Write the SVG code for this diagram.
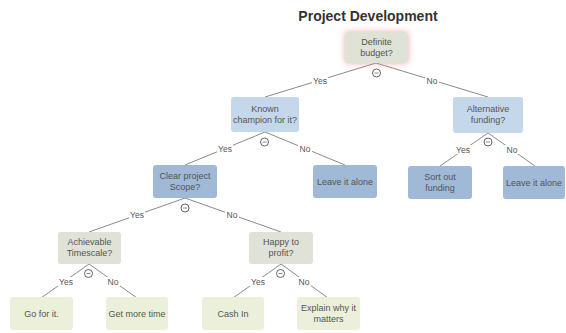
<svg xmlns="http://www.w3.org/2000/svg" width="566" height="333" viewBox="0 0 566 333">
<defs>
<filter id="glow" x="-50%" y="-50%" width="200%" height="200%">
<feGaussianBlur in="SourceAlpha" stdDeviation="3" result="b"/>
<feFlood flood-color="#f08080" flood-opacity="0.7"/>
<feComposite in2="b" operator="in"/>
<feMerge><feMergeNode/><feMergeNode in="SourceGraphic"/></feMerge>
</filter>
</defs>
<style>
.n{stroke:none}
.grey{fill:#dfe2d6}
.lb{fill:#c5d7eb}
.mb{fill:#9fb9d6}
.lf{fill:#ebf0da}
.t{font-family:"Liberation Sans",Arial,sans-serif;font-size:9px;fill:#555;text-anchor:middle}
.e{stroke:#8a8a8a;stroke-width:1;fill:none}
.lbl{font-family:"Liberation Sans",Arial,sans-serif;font-size:8.5px;fill:#555;text-anchor:middle}
.bg{fill:#fff}
.c{fill:#fff;stroke:#555;stroke-width:0.9}
.title{font-family:"Liberation Sans",Arial,sans-serif;font-size:14px;font-weight:bold;fill:#333;text-anchor:middle}
</style>
<rect width="566" height="333" fill="#fff"/>
<text class="title" x="368" y="21">Project Development</text>
<g id="connectors">
<path class="e" d="M376 63 L265 97 M376 63 L488 97 M265 132 L185 165 M265 132 L345 165 M488 133 L440 166 M488 133 L535 166 M185 198 L89 232 M185 198 L281 232 M89 264 L41 298 M89 264 L137 298 M281 264 L233 298 M281 264 L328 298"/>
<g>
<rect class="bg" x="312" y="76" width="16" height="9"/><text class="lbl" x="320" y="84">Yes</text>
<rect class="bg" x="425" y="76" width="14" height="9"/><text class="lbl" x="432" y="84">No</text>
<rect class="bg" x="217" y="144" width="16" height="9"/><text class="lbl" x="225" y="152">Yes</text>
<rect class="bg" x="298" y="144" width="14" height="9"/><text class="lbl" x="305" y="152">No</text>
<rect class="bg" x="455" y="145" width="16" height="9"/><text class="lbl" x="463" y="153">Yes</text>
<rect class="bg" x="505" y="145" width="14" height="9"/><text class="lbl" x="512" y="153">No</text>
<rect class="bg" x="129" y="210" width="16" height="9"/><text class="lbl" x="137" y="218">Yes</text>
<rect class="bg" x="225" y="210" width="14" height="9"/><text class="lbl" x="232" y="218">No</text>
<rect class="bg" x="58" y="277" width="16" height="9"/><text class="lbl" x="66" y="285">Yes</text>
<rect class="bg" x="106" y="277" width="14" height="9"/><text class="lbl" x="113" y="285">No</text>
<rect class="bg" x="250" y="277" width="16" height="9"/><text class="lbl" x="258" y="285">Yes</text>
<rect class="bg" x="297" y="277" width="14" height="9"/><text class="lbl" x="304" y="285">No</text>
</g>
<g>
<circle class="c" cx="376.5" cy="73" r="4"/><path class="e" stroke="#555" d="M374.5 73 H378.5"/>
<circle class="c" cx="264.5" cy="142" r="4"/><path class="e" stroke="#555" d="M262.5 142 H266.5"/>
<circle class="c" cx="488" cy="142" r="4"/><path class="e" stroke="#555" d="M486 142 H490"/>
<circle class="c" cx="185" cy="208" r="4"/><path class="e" stroke="#555" d="M183 208 H187"/>
<circle class="c" cx="88.5" cy="273.5" r="4"/><path class="e" stroke="#555" d="M86.5 273.5 H90.5"/>
<circle class="c" cx="280.5" cy="273.5" r="4"/><path class="e" stroke="#555" d="M278.5 273.5 H282.5"/>
</g>
</g>
<g id="n-root"><rect class="n grey" filter="url(#glow)" x="345" y="32" width="63" height="31" rx="3"/><text class="t" x="376.5" y="45">Definite</text><text class="t" x="376.5" y="56">budget?</text></g>
<g id="n-known"><rect class="n lb" x="231" y="97" width="68" height="35" rx="3"/><text class="t" x="265" y="112">Known</text><text class="t" x="265" y="123">champion for it?</text></g>
<g id="n-alt"><rect class="n lb" x="453" y="97" width="70" height="36" rx="3"/><text class="t" x="488" y="112">Alternative</text><text class="t" x="488" y="123">funding?</text></g>
<g id="n-clear"><rect class="n mb" x="153" y="165" width="64" height="33" rx="3"/><text class="t" x="185" y="179">Clear project</text><text class="t" x="185" y="190">Scope?</text></g>
<g id="n-leave1"><rect class="n mb" x="313" y="165" width="64" height="33" rx="3"/><text class="t" x="345" y="185">Leave it alone</text></g>
<g id="n-sort"><rect class="n mb" x="408" y="166" width="64" height="33" rx="3"/><text class="t" x="440" y="180">Sort out</text><text class="t" x="440" y="191">funding</text></g>
<g id="n-leave2"><rect class="n mb" x="503" y="166" width="62" height="33" rx="3"/><text class="t" x="534" y="186">Leave it alone</text></g>
<g id="n-achievable"><rect class="n grey" x="58" y="232" width="63" height="32" rx="3"/><text class="t" x="89.5" y="245">Achievable</text><text class="t" x="89.5" y="256">Timescale?</text></g>
<g id="n-happy"><rect class="n grey" x="249" y="232" width="64" height="32" rx="3"/><text class="t" x="281" y="245">Happy to</text><text class="t" x="281" y="256">profit?</text></g>
<g id="n-go"><rect class="n lf" x="10" y="297" width="63" height="33" rx="3"/><text class="t" x="41.5" y="317">Go for it.</text></g>
<g id="n-more"><rect class="n lf" x="106" y="297" width="62" height="33" rx="3"/><text class="t" x="137" y="317">Get more time</text></g>
<g id="n-cash"><rect class="n lf" x="202" y="297" width="62" height="33" rx="3"/><text class="t" x="233" y="317">Cash In</text></g>
<g id="n-explain"><rect class="n lf" x="297" y="297" width="63" height="33" rx="3"/><text class="t" x="328.5" y="311">Explain why it</text><text class="t" x="328.5" y="322">matters</text></g>
</svg>
